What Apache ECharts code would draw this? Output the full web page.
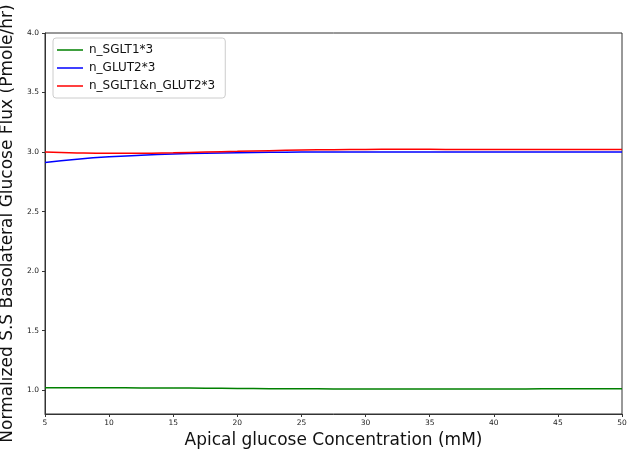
<!DOCTYPE html>
<html><head><meta charset="utf-8">
<script src="https://cdn.jsdelivr.net/npm/echarts@6/dist/echarts.min.js"></script>
<style>html,body{margin:0;padding:0;background:#fff}#c{width:630px;height:457px}</style>
</head><body><div id="c"></div>
<script>
const xValues = [5, 7.5, 10, 12.5, 15, 17.5, 20, 22.5, 25, 27.5, 30, 32.5, 35, 37.5, 40, 42.5, 45, 47.5, 50];
const sglt1 = [1.020, 1.020, 1.020, 1.019, 1.018, 1.017, 1.015, 1.013, 1.012, 1.011, 1.010, 1.010, 1.010, 1.010, 1.011, 1.011, 1.012, 1.012, 1.012];
const glut2 = [2.913, 2.940, 2.960, 2.973, 2.983, 2.990, 2.995, 2.998, 3.000, 3.001, 3.001, 3.001, 3.001, 3.001, 3.001, 3.001, 3.001, 3.001, 3.001];
const both = [3.000, 2.993, 2.990, 2.990, 2.994, 3.000, 3.006, 3.012, 3.017, 3.020, 3.022, 3.023, 3.023, 3.022, 3.022, 3.021, 3.021, 3.021, 3.022];
const seriesNames = ['n_SGLT1*3', 'n_GLUT2*3', 'n_SGLT1&n_GLUT2*3'];
const yTicks = [1.0, 1.5, 2.0, 2.5, 3.0, 3.5, 4.0];
const xTicks = [5, 10, 15, 20, 25, 30, 35, 40, 45, 50];

const toPairs = arr => xValues.map((x, i) => [x, arr[i]]);
const colors = ['#008000', '#0000ff', '#ff0000'];
const chart = echarts.init(document.getElementById('c'), null, {renderer: 'canvas'});
chart.setOption({
  animation: false,
  grid: {left: 45, right: 8, top: 33, bottom: 43, containLabel: false, outerBoundsMode: 'none', show: true, borderColor: '#333', borderWidth: 1},
  legend: {
    orient: 'vertical', left: 53, top: 38, padding: [6, 10, 6, 4],
    icon: 'rect', itemWidth: 26, itemHeight: 1.5, itemGap: 6,
    borderColor: '#ccc', borderWidth: 1, borderRadius: 3,
    textStyle: {fontFamily: 'DejaVu Sans', fontSize: 12, color: '#111', padding: [0, 0, 0, 1]},
    data: seriesNames
  },
  xAxis: {
    type: 'value', min: 5, max: 50, interval: 5,
    name: 'Apical glucose Concentration (mM)', nameLocation: 'middle', nameGap: 15,
    nameTextStyle: {fontFamily: 'DejaVu Sans', fontSize: 17, color: '#111'},
    axisLine: {show: true, lineStyle: {color: '#333'}},
    axisTick: {show: true, length: 3, lineStyle: {color: '#333'}},
    axisLabel: {fontFamily: 'DejaVu Sans', fontSize: 7.5, color: '#222', margin: 5},
    splitLine: {show: false}
  },
  yAxis: {
    type: 'value', min: 0.8, max: 4.0,
    name: 'Normalized S.S Basolateral Glucose Flux (Pmole/hr)', nameLocation: 'middle', nameGap: 18,
    nameTextStyle: {fontFamily: 'DejaVu Sans', fontSize: 17, color: '#111'},
    axisLine: {show: true, lineStyle: {color: '#333'}},
    axisTick: {show: true, length: 3, customValues: yTicks, lineStyle: {color: '#333'}},
    axisLabel: {fontFamily: 'DejaVu Sans', fontSize: 7.5, color: '#222', margin: 6, customValues: yTicks,
      formatter: v => v.toFixed(1)},
    splitLine: {show: false}
  },
  series: [
    {name: seriesNames[0], type: 'line', data: toPairs(sglt1), smooth: true, symbol: 'none', lineStyle: {width: 1.5, color: colors[0]}, itemStyle: {color: colors[0]}},
    {name: seriesNames[1], type: 'line', data: toPairs(glut2), smooth: true, symbol: 'none', lineStyle: {width: 1.5, color: colors[1]}, itemStyle: {color: colors[1]}},
    {name: seriesNames[2], type: 'line', data: toPairs(both), smooth: true, symbol: 'none', lineStyle: {width: 1.5, color: colors[2]}, itemStyle: {color: colors[2]}}
  ]
});
</script></body></html>
